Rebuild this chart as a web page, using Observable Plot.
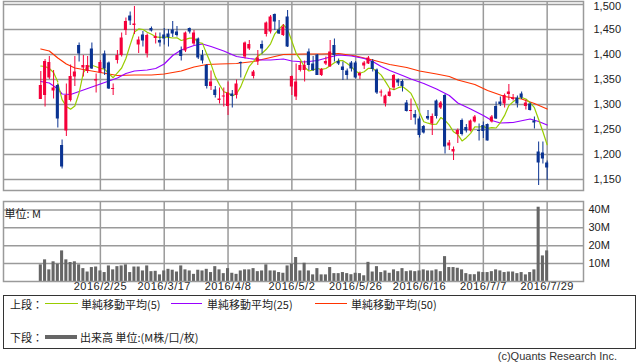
<!DOCTYPE html>
<html><head><meta charset="utf-8">
<script src="https://cdn.jsdelivr.net/npm/d3@7"></script>
<script src="https://cdn.jsdelivr.net/npm/@observablehq/plot@0.6"></script>
<style>
body{margin:0;background:#fff;width:638px;height:362px;overflow:hidden;position:relative;font-family:"Liberation Sans",Arial,sans-serif;}
#main{position:absolute;left:0;top:0;}
#vol{position:absolute;left:0;top:192px;}
#vol g[aria-label="x-axis tick label"] text{letter-spacing:0.5px;}
#legend{position:absolute;left:3px;top:295px;width:633px;height:54px;border:1px solid #333;box-sizing:border-box;font-family:"Noto Sans CJK JP",sans-serif;font-size:11px;color:#222;}
#legend span{position:absolute;white-space:nowrap;line-height:14px;}
#legend i{position:absolute;display:block;}
#copy{position:absolute;right:21px;top:349px;font-size:11px;color:#333;line-height:14px;}
</style>
</head><body>
<div id="main"></div>
<div id="vol"></div>
<div id="legend">
 <span style="left:6px;top:1px">上段：</span>
 <i style="left:41px;top:7px;width:33px;height:1px;background:#99cc00"></i>
 <span style="left:77px;top:1px">単純移動平均(5)</span>
 <i style="left:167px;top:7px;width:31px;height:1px;background:#9900ff"></i>
 <span style="left:203px;top:1px">単純移動平均(25)</span>
 <i style="left:311px;top:7px;width:32px;height:1px;background:#ff3300"></i>
 <span style="left:347px;top:1px">単純移動平均(50)</span>
 <span style="left:6px;top:34px">下段：</span>
 <i style="left:41px;top:39px;width:32px;height:4px;background:#666"></i>
 <span style="left:76px;top:34px">出来高 単位:(M株/口/枚)</span>
</div>
<div id="copy">(c)Quants Research Inc.</div>
<script>
const dates = ["2/4","2/5","2/8","2/9","2/10","2/12","2/15","2/16","2/17","2/18","2/19","2/22","2/23","2/24","2/25","2/26","2/29",
"3/1","3/2","3/3","3/4","3/7","3/8","3/9","3/10","3/11","3/14","3/15","3/16","3/17","3/18","3/22","3/23","3/24","3/25","3/28","3/29","3/30","3/31",
"4/1","4/4","4/5","4/6","4/7","4/8","4/11","4/12","4/13","4/14","4/15","4/18","4/19","4/20","4/21","4/22","4/25","4/26","4/27","4/28",
"5/2","5/6","5/9","5/10","5/11","5/12","5/13","5/16","5/17","5/18","5/19","5/20","5/23","5/24","5/25","5/26","5/27","5/30","5/31",
"6/1","6/2","6/3","6/6","6/7","6/8","6/9","6/10","6/13","6/14","6/15","6/16","6/17","6/20","6/21","6/22","6/23","6/24","6/27","6/28","6/29","6/30",
"7/1","7/4","7/5","7/6","7/7","7/8","7/11","7/12","7/13","7/14","7/15","7/19","7/20","7/21","7/22","7/25","7/26","7/27","7/28","7/29"];
const open = [1310,1318,1353,1327,1338,1218,1247,1308,1355,1418, 1373,1366,1411,1347,1363,1401,1383,1330,1388,1398,
 1448,1477,1458,1419,1439,1401,1452,1432,1428,1439, 1441,1449,1445,1408,1407,1452,1421,1431,1398,1378,
 1336,1329,1308,1315,1296,1321,1318,1384,1395,1411, 1356,1385,1420,1440,1445,1480,1449,1438,1475,1335,
 1315,1368,1368,1405,1381,1399,1358,1381,1375,1418, 1386,1375,1367,1383,1383,1357,1377,1381,1386,1369,
 1323,1301,1316,1333,1349,1346,1303,1286,1280,1271, 1256,1276,1261,1307,1293,1318,1217,1205,1240,1268,
 1254,1247,1265,1248,1258,1260,1265,1296,1305,1301, 1320,1310,1313,1321,1296,1301,1267,1205,1203,1183];
const high = [1366,1390,1396,1368,1340,1229,1341,1379,1396,1423, 1398,1396,1423,1361,1388,1407,1385,1341,1408,1443,
 1473,1485,1496,1435,1446,1441,1455,1443,1443,1452, 1450,1466,1456,1415,1445,1453,1448,1433,1408,1380,
 1367,1336,1333,1333,1345,1328,1349,1385,1425,1428, 1368,1408,1427,1465,1478,1481,1468,1460,1488,1357,
 1381,1385,1387,1411,1396,1400,1372,1395,1428,1431, 1391,1385,1371,1386,1386,1365,1386,1396,1390,1371,
 1329,1319,1331,1360,1351,1349,1308,1311,1288,1275, 1258,1288,1281,1309,1306,1320,1228,1215,1251,1271,
 1260,1269,1278,1261,1265,1261,1278,1305,1315,1321, 1340,1320,1317,1325,1309,1303,1275,1225,1225,1187];
const low = [1310,1295,1350,1311,1253,1171,1236,1305,1336,1385, 1355,1362,1370,1323,1362,1358,1330,1318,1381,1395,
 1438,1458,1440,1402,1415,1393,1445,1421,1415,1419, 1415,1434,1435,1387,1404,1441,1418,1390,1381,1331,
 1328,1313,1301,1295,1278,1293,1311,1353,1391,1408, 1351,1378,1401,1435,1441,1448,1440,1436,1414,1318,
 1308,1365,1345,1368,1366,1358,1356,1378,1375,1385, 1378,1348,1349,1365,1351,1350,1370,1380,1365,1320,
 1315,1295,1315,1328,1336,1325,1285,1268,1259,1233, 1241,1268,1238,1271,1290,1201,1208,1188,1222,1237,
 1243,1245,1263,1227,1232,1227,1263,1270,1296,1293, 1308,1307,1293,1310,1289,1287,1251,1138,1181,1148];
const close = [1338,1386,1384,1333,1271,1175,1318,1356,1365,1401, 1378,1378,1371,1350,1384,1371,1331,1332,1398,1433,
 1466,1467,1461,1429,1427,1438,1447,1436,1423,1431, 1434,1441,1438,1396,1443,1445,1443,1393,1387,1336,
 1345,1318,1311,1317,1323,1316,1341,1382,1423,1420, 1365,1393,1411,1463,1475,1465,1441,1455,1415,1356,
 1345,1378,1378,1378,1368,1358,1370,1386,1405,1398, 1381,1368,1358,1371,1353,1362,1383,1393,1370,1323,
 1325,1317,1325,1358,1343,1336,1286,1288,1273,1238, 1243,1271,1276,1276,1303,1215,1223,1210,1248,1240,
 1247,1267,1275,1246,1246,1227,1275,1271,1300,1318, 1325,1313,1301,1313,1303,1288,1263,1183,1191,1173];
const volume = [9.3,12.1,6.5,11,9.7,17.1,12.1,10.6,11,9.3, 7.2,5.3,7.8,8.1,5.9,5.0,8.7,6.5,8.3,8.7,
 9.3,5.0,8.1,8.1,5.9,8.7,5.5,5.7,3.7,5.9, 6.8,6.3,5.3,8.7,6.5,5.9,4.0,6.3,5.9,6.8,
 5.0,8.3,6.5,4.4,7.2,4.6,4.0,5.9,6.5,6.5, 7.2,5.5,5.9,9.3,5.9,5.9,5.0,4.6,8.7,9.7,
 13.4,5.9,10.2,5.9,3.7,7.2,3.7,3.7,7.8,4.4, 4.4,5.0,4.4,3.8,4.6,4.4,3.2,10.7,5.3,8.3,
 5.0,5.9,4.6,6.5,5.5,7.2,5.5,5.9,5.5,5.9, 6.5,5.9,5.9,6.5,5.5,13.9,7.8,7.8,7.4,6.5,
 4.4,3.8,3.8,5.3,5.0,5.0,5.5,6.5,5.9,5.0, 5.3,5.3,4.4,5.0,3.7,5.0,6.5,41.5,14.3,17.1];
// moving averages (index of trading day, value)
const ma5LeadIdx = [0,1,2,3,4];
const ma5Lead = [1377,1376,1372,1364,1345];
const ma25Idx = [0,2,4,5,7,9,12,15,18,20,22,25,27,29,31,33,36,38,40,43,46,49,52,54,57,59,62,65,68,70,73,76,78,80,82,85,87,90,93,96,98,101,104,106,108,111,115,117,119];
const ma25 = [1346,1343,1331,1321,1320,1326,1335,1344,1353,1362,1367,1369,1372,1381,1398,1409,1418,1421,1416,1407,1396,1392,1389,1389,1391,1387,1385,1388,1395,1399,1397,1392,1386,1376,1368,1358,1351,1342,1331,1318,1303,1291,1278,1268,1263,1264,1271,1266,1259];
const ma50Idx = [0,2,4,6,8,10,14,18,22,26,29,33,36,39,42,46,50,54,57,62,66,70,74,78,82,86,89,93,96,98,102,105,109,113,116,119];
const ma50 = [1411,1407,1393,1381,1373,1370,1364,1358,1359,1359,1361,1367,1375,1380,1381,1382,1386,1394,1400,1401,1401,1402,1397,1389,1380,1374,1367,1361,1356,1349,1340,1328,1316,1311,1302,1291];
const priceTicks = [1150,1200,1250,1300,1350,1400,1450,1500];
const volTicks = [10,20,30,40];
const tickLabels = ["2016/2/25","2016/3/17","2016/4/8","2016/5/2","2016/5/26","2016/6/16","2016/7/7","2016/7/29"];

const RED = "#f5003a", BLUE = "#0a3392", GRID = "#9a9a9a";
const rows = dates.map((d, i) => ({i, date: d, open: open[i], high: high[i], low: low[i], close: close[i], vol: volume[i], up: close[i] >= open[i]}));
const tickIdx = tickLabels.map(l => dates.indexOf(l.slice(5)));
const xDomain = [-8.77, 127.54];
const style = {fontFamily: "'Liberation Sans', Arial, sans-serif", fontSize: "11px", color: "#222", background: "transparent"};
const pts = (idx, vals) => idx.map((k, j) => ({i: k, v: vals[j]}));
const topTick = d3.max(priceTicks);

const main = Plot.plot({
  width: 638, height: 192, marginLeft: 3, marginRight: 55, marginTop: 1, marginBottom: 2,
  style,
  x: {domain: xDomain, axis: null},
  y: {domain: [1128, 1506], axis: null},
  marks: [
    Plot.gridY(priceTicks, {stroke: GRID, strokeOpacity: 1, strokeWidth: 1.5}),
    Plot.gridX(tickIdx, {stroke: GRID, strokeOpacity: 1, strokeWidth: 1.5}),
    Plot.axisY(priceTicks.filter(t => t !== topTick), {anchor: "right", tickSize: 0, tickPadding: 10, fill: "#222", label: null}),
    Plot.axisY([topTick], {anchor: "right", tickSize: 0, tickPadding: 10, fill: "#222", label: null, dy: 2}),
    Plot.frame({stroke: GRID, strokeWidth: 1.5}),
    Plot.line(pts(ma50Idx, ma50), {x: "i", y: "v", stroke: "#ff3300", strokeWidth: 1.2}),
    Plot.line(pts(ma25Idx, ma25), {x: "i", y: "v", stroke: "#9900ff", strokeWidth: 1.2}),
    Plot.line(pts(ma5LeadIdx, ma5Lead), {x: "i", y: "v", stroke: "#99cc00", strokeWidth: 1.2}),
    Plot.lineY(rows, Plot.windowY({k: 5, anchor: "end", strict: true}, {x: "i", y: "close", stroke: "#99cc00", strokeWidth: 1.2})),
    Plot.ruleX(rows, {x: "i", y1: "low", y2: "high", stroke: d => d.up ? RED : BLUE, strokeWidth: 1}),
    Plot.rect(rows, {x1: d => d.i - 0.36, x2: d => d.i + 0.36, y1: "open", y2: "close", fill: d => d.up ? RED : BLUE})
  ]
});
document.getElementById("main").append(main);

const vol = Plot.plot({
  width: 638, height: 103, marginLeft: 3, marginRight: 55, marginTop: 9, marginBottom: 14,
  style,
  x: {domain: xDomain, axis: null},
  y: {domain: [0, 44.7], axis: null},
  marks: [
    Plot.gridY(volTicks, {stroke: GRID, strokeOpacity: 1, strokeWidth: 1.5}),
    Plot.gridX(tickIdx, {stroke: GRID, strokeOpacity: 1, strokeWidth: 1.5}),
    Plot.axisY(volTicks, {anchor: "right", tickSize: 0, tickPadding: 5, tickFormat: d => d + "M", fill: "#222", label: null}),
    Plot.axisX(tickIdx, {anchor: "bottom", tickSize: 0, tickPadding: 1, tickFormat: (d, k) => tickLabels[k], fill: "#222", label: null}),
    Plot.rect(rows, {x1: d => d.i - 0.36, x2: d => d.i + 0.36, y1: 0, y2: "vol", fill: "#666"}),
    Plot.frame({stroke: GRID, strokeWidth: 1.5}),
    Plot.text(["単位: M"], {frameAnchor: "top-left", dx: 1, dy: 9, text: d => d, textAnchor: "start", fill: "#222", fontFamily: "'Noto Sans CJK JP', sans-serif"})
  ]
});
document.getElementById("vol").append(vol);
</script>
</body></html>
